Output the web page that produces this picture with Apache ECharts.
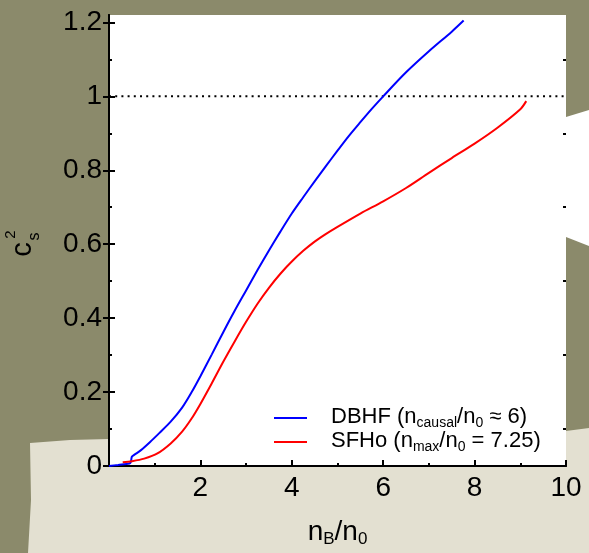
<!DOCTYPE html>
<html>
<head>
<meta charset="utf-8">
<script src="https://cdn.jsdelivr.net/npm/echarts@6/dist/echarts.min.js"></script>
<style>
  html, body { margin: 0; padding: 0; background: #8b8a6b; }
  #chart { width: 589px; height: 553px; }
</style>
</head>
<body>
<div id="chart"></div>
<script>
// Squared sound speed c_s^2 versus baryon density n_B/n_0
const dbhfN   = [0, 0.2, 0.45, 0.48, 0.5, 0.55, 0.7, 0.9, 1.1, 1.35, 1.6, 1.8, 2.0, 2.25, 2.5, 2.75, 3.0, 3.25, 3.5, 3.75, 4.0, 4.25, 4.5, 4.75, 5.0, 5.25, 5.5, 5.75, 6.0, 6.5, 7.0, 7.5, 7.76];
const dbhfCs2 = [0, 0.003, 0.007, 0.012, 0.025, 0.03, 0.043, 0.065, 0.089, 0.12, 0.158, 0.198, 0.243, 0.302, 0.362, 0.42, 0.475, 0.53, 0.583, 0.634, 0.683, 0.727, 0.77, 0.812, 0.853, 0.893, 0.93, 0.966, 1.0, 1.065, 1.122, 1.175, 1.205];

const sfhoN   = [0.3, 0.5, 0.77, 1.06, 1.35, 1.6, 1.8, 2.0, 2.25, 2.5, 2.75, 3.0, 3.25, 3.5, 3.75, 4.0, 4.25, 4.5, 4.75, 5.0, 5.5, 6.0, 6.5, 7.0, 7.5, 8.0, 8.5, 9.0, 9.13];
const sfhoCs2 = [0.01, 0.013, 0.02, 0.034, 0.061, 0.093, 0.127, 0.168, 0.224, 0.282, 0.337, 0.39, 0.439, 0.482, 0.52, 0.553, 0.582, 0.607, 0.628, 0.647, 0.683, 0.716, 0.752, 0.793, 0.833, 0.872, 0.915, 0.965, 0.987];

// causal limit c_s^2 = 1
const causalN   = [0, 10];
const causalCs2 = [1, 1];

const seriesNames = ['DBHF', 'SFHo'];
const legendLabels = {
  DBHF: '{m|DBHF (n}{s|causal}{m|/n}{s|0}{m| \u2248 6)}',
  SFHo: '{m|SFHo (n}{s|max}{m|/n}{s|0}{m| = 7.25)}'
};

// axis ranges and tick positions
const xRange = [0, 10];
const yRange = [0, 1.22];
const xMajorTicks = [2, 4, 6, 8, 10];
const xMinorTicks = [1, 3, 5, 7, 9];
const yMajorTicks = [0, 0.2, 0.4, 0.6, 0.8, 1, 1.2];
const yMinorTicks = [0.1, 0.3, 0.5, 0.7, 0.9, 1.1];

const FONT = '"Liberation Sans", Arial, Helvetica, sans-serif';

const pairs = (xs, ys) => xs.map((x, i) => [x, ys[i]]);

const chart = echarts.init(document.getElementById('chart'), null, { renderer: 'canvas' });

const frameLine = { show: true, lineStyle: { color: '#000', width: 2 } };
const noLine = { show: false };
const tickStyle = { color: '#000', width: 2 };

function yAxisPair(position, withLabels) {
  return [
    {
      type: 'value', position, min: yRange[0], max: yRange[1],
      axisLine: frameLine,
      axisTick: { show: true, inside: true, length: 6, customValues: yMajorTicks, lineStyle: tickStyle },
      splitLine: { show: false },
      axisLabel: withLabels
        ? { show: true, customValues: yMajorTicks, fontSize: 28, color: '#000', margin: 7, fontFamily: FONT }
        : { show: false }
    },
    {
      type: 'value', position, min: yRange[0], max: yRange[1],
      axisLine: noLine,
      axisTick: { show: true, inside: true, length: 3, customValues: yMinorTicks, lineStyle: tickStyle },
      splitLine: { show: false },
      axisLabel: { show: false }
    }
  ];
}

chart.setOption({
  backgroundColor: '#8b8a6b',
  animation: false,
  textStyle: { fontFamily: FONT },
  graphic: [
    // pale paper strip along the bottom
    {
      type: 'polygon', z: -10, silent: true,
      shape: { points: [[30, 443], [70, 440], [109, 439], [566, 431], [589, 428], [589, 553], [28, 553], [31, 500]] },
      style: { fill: '#e3e0d1' }
    },
    // white paper wedge on the right edge
    {
      type: 'polygon', z: -10, silent: true,
      shape: { points: [[566, 117], [589, 110], [589, 246], [566, 237]] },
      style: { fill: '#ffffff' }
    },
    // y axis title: c with stacked subscript s and superscript 2
    {
      type: 'text', x: 23, y: 249.5, rotation: Math.PI / 2, z: 10,
      style: { text: 'c', fontSize: 29, fontFamily: FONT, fill: '#000',
               align: 'center', verticalAlign: 'middle', textAlign: 'center', textVerticalAlign: 'middle' }
    },
    {
      type: 'text', x: 35, y: 236.5, rotation: Math.PI / 2, z: 10,
      style: { text: 's', fontSize: 16, fontFamily: FONT, fill: '#000',
               align: 'center', verticalAlign: 'middle', textAlign: 'center', textVerticalAlign: 'middle' }
    },
    {
      type: 'text', x: 11, y: 234.5, rotation: Math.PI / 2, z: 10,
      style: { text: '2', fontSize: 15, fontFamily: FONT, fill: '#000',
               align: 'center', verticalAlign: 'middle', textAlign: 'center', textVerticalAlign: 'middle' }
    }
  ],
  grid: {
    left: 109, right: 23, top: 15, bottom: 82,
    show: true, backgroundColor: '#ffffff', borderWidth: 0
  },
  legend: {
    data: seriesNames,
    orient: 'vertical',
    left: 269, top: 401,
    itemWidth: 33, itemHeight: 2, itemGap: 0,
    icon: 'rect',
    formatter: name => legendLabels[name],
    textStyle: {
      padding: [0, 0, 0, 19],
      rich: {
        m: { fontSize: 22, fontFamily: FONT, color: '#000', lineHeight: 24, verticalAlign: 'top' },
        s: { fontSize: 14, fontFamily: FONT, color: '#000', lineHeight: 12, verticalAlign: 'bottom' }
      }
    }
  },
  xAxis: [
    {
      type: 'value', position: 'bottom', min: xRange[0], max: xRange[1],
      axisLine: frameLine,
      axisTick: { show: true, inside: true, length: 6, customValues: xMajorTicks, lineStyle: tickStyle },
      splitLine: { show: false },
      axisLabel: { customValues: xMajorTicks, fontSize: 28, color: '#000', margin: 8, fontFamily: FONT },
      name: '{n|n}{s|B}{n|/n}{s|0}',
      nameLocation: 'middle', nameGap: 52,
      nameTextStyle: {
        rich: {
          n: { fontSize: 28, fontFamily: FONT, color: '#000', lineHeight: 30, verticalAlign: 'top' },
          s: { fontSize: 17, fontFamily: FONT, color: '#000', lineHeight: 14, verticalAlign: 'bottom' }
        }
      }
    },
    {
      type: 'value', position: 'bottom', min: xRange[0], max: xRange[1],
      axisLine: noLine,
      axisTick: { show: true, inside: true, length: 3, customValues: xMinorTicks, lineStyle: tickStyle },
      splitLine: { show: false }, axisLabel: { show: false }
    },
    {
      type: 'value', position: 'top', min: xRange[0], max: xRange[1],
      axisLine: frameLine,
      axisTick: { show: false }, axisLabel: { show: false }, splitLine: { show: false }
    }
  ],
  yAxis: [...yAxisPair('left', true), ...yAxisPair('right', false)],
  series: [
    {
      name: 'causal', type: 'line', xAxisIndex: 0, yAxisIndex: 0,
      data: pairs(causalN, causalCs2), symbol: 'none', silent: true,
      lineStyle: { color: '#000', width: 2, type: [2, 4.2], cap: 'butt' }
    },
    {
      name: 'DBHF', type: 'line', xAxisIndex: 0, yAxisIndex: 0,
      data: pairs(dbhfN, dbhfCs2), symbol: 'none', smooth: 0.3,
      itemStyle: { color: '#0000ff' },
      lineStyle: { color: '#0000ff', width: 2 }
    },
    {
      name: 'SFHo', type: 'line', xAxisIndex: 0, yAxisIndex: 0,
      data: pairs(sfhoN, sfhoCs2), symbol: 'none', smooth: 0.3,
      itemStyle: { color: '#ff0000' },
      lineStyle: { color: '#ff0000', width: 2 }
    }
  ]
});
</script>
</body>
</html>
